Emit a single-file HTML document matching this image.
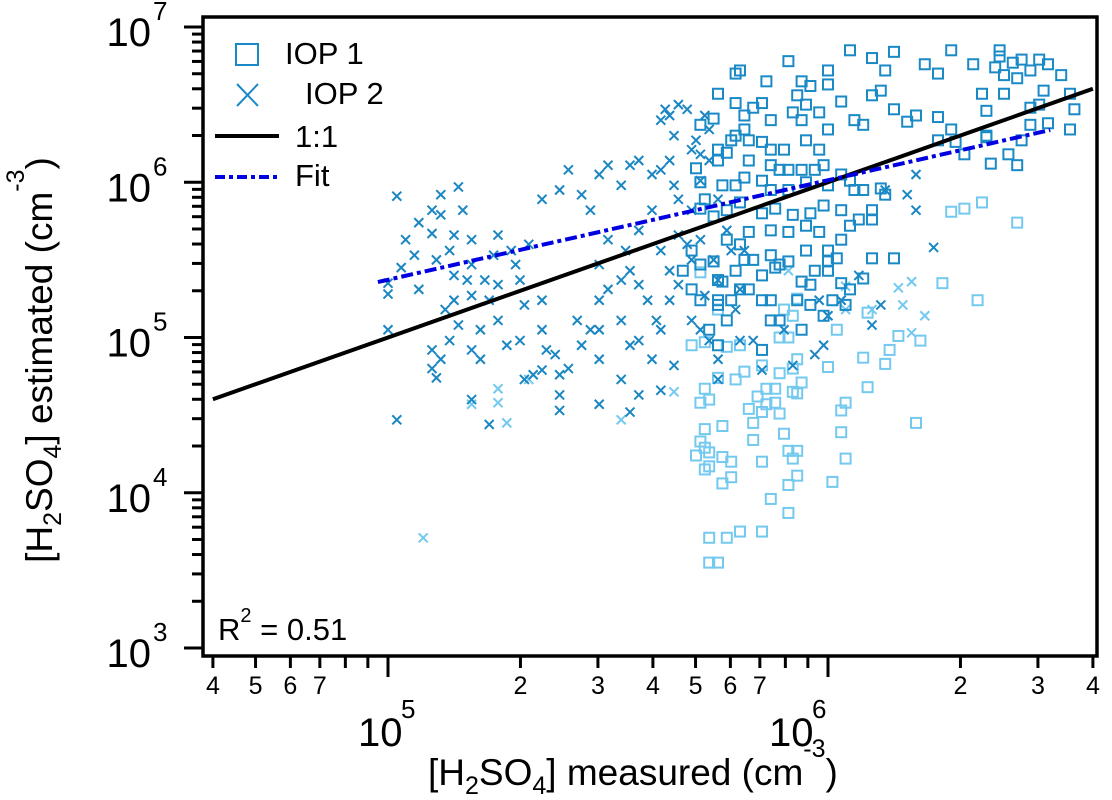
<!DOCTYPE html>
<html><head><meta charset="utf-8"><style>
body{margin:0;background:#fff;}
svg{display:block;font-family:"Liberation Sans",Arial,sans-serif;}
</style></head><body>
<div style="position:relative;width:1112px;height:800px;">
<svg id="chart" width="1112" height="800" viewBox="0 0 1112 800" style="position:absolute;left:0;top:0">
<g id="marks"></g>
<g id="axes"></g>
</svg>
<svg width="1112" height="800" style="position:absolute;left:0;top:0" font-family="Liberation Sans, Arial, sans-serif">
  <text x="358" y="746" font-size="40">10</text>
  <text x="401" y="718" font-size="26">5</text>
  <text x="769" y="746" font-size="40">10</text>
  <text x="812" y="718" font-size="26">6</text>
  <g font-size="37">
    <text x="428" y="785">[H<tspan font-size="25" dy="9">2</tspan><tspan dy="-9">SO</tspan><tspan font-size="25" dy="9">4</tspan><tspan dy="-9">] measured (cm</tspan><tspan font-size="25" dy="-28">-3</tspan><tspan dy="28">)</tspan></text>
  </g>
  <g font-size="37" transform="translate(52,360) rotate(-90)">
    <text x="0" y="0" text-anchor="middle">[H<tspan font-size="25" dy="9">2</tspan><tspan dy="-9">SO</tspan><tspan font-size="25" dy="9">4</tspan><tspan dy="-9">] estimated (cm</tspan><tspan font-size="25" dy="-28">-3</tspan><tspan dy="28">)</tspan></text>
  </g>
  <g font-size="31">
    <rect x="236" y="44" width="22" height="21" fill="none" stroke="#1a8ac6" stroke-width="2"/>
    <text x="285" y="64">IOP 1</text>
    <path d="M237,84L258,106M237,106L258,84" stroke="#1a8ac6" stroke-width="2"/>
    <text x="305" y="104">IOP 2</text>
    <line x1="215" y1="136" x2="279" y2="136" stroke="#000" stroke-width="4"/>
    <text x="295" y="147">1:1</text>
    <line x1="215" y1="177" x2="279" y2="177" stroke="#0000e0" stroke-width="4" stroke-dasharray="10,4,4,4"/>
    <text x="295" y="186">Fit</text>
  </g>
  <g font-size="31">
    <text x="218" y="640">R<tspan font-size="20" dy="-18">2</tspan><tspan dy="18"> = 0.51</tspan></text>
  </g>
</svg>
</div>
<script>
// data (log10 values of concentration, cm^-3)
const iop1X=[5.79,5.80,6.05,6.10,6.13,6.28,6.22,6.33,6.25,6.15,6.39,6.39,6.38,6.40,6.42,6.44,6.46,6.48,6.50,6.53,6.49,6.48,6.50,6.55,6.56,6.43,6.46,6.40,6.35,6.36,6.36,6.44,6.46,6.55,5.79,5.75,5.81,5.83,5.85,5.86,5.92,5.95,5.96,6.00,5.94,5.91,5.93,5.98,6.03,6.00,6.06,6.08,6.10,6.12,6.15,6.18,6.20,6.25,6.25,6.28,6.29,6.31,6.00,5.98,5.95,5.94,5.90,5.87,5.82,5.81,5.87,5.74,5.71,5.75,5.77,5.75,5.70,5.71,5.78,5.79,5.82,5.85,5.87,5.89,5.91,5.94,5.97,5.99,6.03,6.05,6.08,6.12,6.10,6.07,6.00,5.95,5.91,5.87,5.85,5.81,5.79,5.76,5.72,5.74,5.77,5.80,5.85,5.88,5.92,5.96,5.99,6.03,6.06,5.95,5.98,6.03,6.00,6.05,6.10,6.13,5.71,5.77,5.80,5.82,5.87,5.91,5.87,5.83,5.74,5.75,5.71,5.76,5.79,5.81,5.82,5.85,5.88,5.89,5.91,5.95,6.00,6.02,6.08,6.10,6.03,6.15,5.97,6.00,6.05,5.75,5.78,5.85,5.87,5.93,5.96,6.01,5.80,5.71,5.75,5.77,5.89,5.94,5.96,5.94,5.99,6.04,5.73,5.75,5.85,5.87,5.69,5.69,5.67,6.43,6.37,6.41,6.36];
const iop1Y=[6.70,6.72,6.85,6.80,6.72,6.85,6.76,6.76,6.70,6.84,6.85,6.81,6.74,6.69,6.77,6.79,6.72,6.79,6.76,6.69,6.59,6.50,6.38,6.57,6.47,6.67,6.48,6.57,6.57,6.46,6.30,6.27,6.37,6.34,6.51,6.57,6.43,6.48,6.51,6.65,6.45,6.50,6.62,6.63,6.65,6.78,6.56,6.45,6.52,6.72,6.40,6.37,6.56,6.59,6.47,6.39,6.43,6.42,6.27,6.34,6.26,6.18,6.34,6.21,6.27,6.40,6.21,6.21,6.14,6.34,6.40,6.41,6.37,6.21,6.19,6.14,6.09,6.00,6.27,6.30,6.27,6.26,6.11,6.08,6.08,6.08,6.08,6.11,6.05,6.01,5.95,5.96,5.82,5.76,5.98,6.00,5.95,5.95,6.01,6.03,5.98,5.98,5.89,5.78,5.82,5.87,5.80,5.83,5.79,5.80,5.85,5.82,5.95,5.72,5.68,5.63,5.56,5.72,5.76,5.92,5.83,5.63,5.60,5.68,5.69,5.68,5.53,5.50,5.49,5.37,5.47,5.36,5.43,5.50,5.31,5.40,5.45,5.47,5.49,5.56,5.49,5.51,5.38,5.51,5.35,5.51,5.43,5.43,5.31,5.24,5.24,5.24,5.24,5.24,5.21,5.24,5.31,5.24,5.21,5.11,5.11,5.36,5.34,5.05,5.14,5.21,5.05,4.95,4.92,5.11,5.56,5.31,5.43,6.11,6.12,6.18,6.29];
const iop1LightX=[5.71,5.75,5.93,5.90,5.92,6.09,6.02,6.26,6.34,6.21,6.16,6.14,6.13,6.08,6.09,5.72,5.77,5.80,5.89,5.91,5.93,5.85,5.81,5.79,5.75,5.89,5.92,5.94,6.00,5.72,5.71,5.73,5.86,5.88,5.92,5.93,5.84,5.88,5.86,5.82,5.85,5.89,6.04,6.03,6.20,5.72,5.76,5.83,5.90,6.03,5.71,5.72,5.70,5.73,5.76,5.78,5.83,5.85,5.91,5.93,5.92,6.04,5.72,5.73,5.78,5.76,5.91,5.93,6.01,5.87,5.91,5.73,5.77,5.80,5.85,5.73,5.75,6.28,6.31,6.35,6.43,5.69];
const iop1LightY=[5.42,5.18,5.25,5.18,5.14,5.16,5.05,5.35,5.24,4.98,5.01,4.92,4.83,4.87,4.68,4.97,4.94,4.95,5.00,5.00,4.86,4.82,4.78,4.73,4.74,4.77,4.80,4.71,4.81,4.67,4.58,4.60,4.67,4.67,4.65,4.64,4.62,4.58,4.57,4.54,4.52,4.51,4.58,4.53,4.45,4.41,4.43,4.45,4.38,4.39,4.33,4.29,4.24,4.26,4.23,4.20,4.34,4.20,4.27,4.27,4.22,4.22,4.15,4.17,4.10,4.06,4.05,4.11,4.07,3.96,3.87,3.71,3.71,3.75,3.75,3.55,3.55,5.81,5.83,5.87,5.74,4.95];
const iop2X=[5.02,5.00,5.00,5.00,5.02,5.03,5.04,5.06,5.07,5.07,5.10,5.10,5.11,5.12,5.12,5.14,5.15,5.15,5.16,5.17,5.15,5.18,5.19,5.19,5.10,5.10,5.11,5.12,5.13,5.14,5.16,5.19,5.21,5.23,5.22,5.24,5.25,5.25,5.28,5.29,5.30,5.31,5.32,5.35,5.35,5.36,5.21,5.25,5.27,5.19,5.30,5.33,5.35,5.38,5.39,5.41,5.39,5.44,5.46,5.48,5.50,5.53,5.43,5.48,5.19,5.23,5.31,5.39,5.48,5.35,5.39,5.41,5.44,5.46,5.48,5.50,5.53,5.55,5.57,5.60,5.62,5.65,5.64,5.66,5.69,5.71,5.73,5.69,5.71,5.62,5.64,5.66,5.63,5.65,5.68,5.70,5.72,5.73,5.77,5.75,5.78,5.74,5.71,5.68,5.72,5.75,5.79,5.80,5.81,5.57,5.60,5.62,5.64,5.66,5.69,5.48,5.50,5.54,5.55,5.57,5.59,5.61,5.62,5.64,5.66,5.69,5.71,5.73,5.75,5.53,5.55,5.57,5.60,5.62,5.48,5.53,5.57,5.55,5.65,5.75,5.80,5.83,5.85,5.90,5.92,5.97,5.99,6.00,6.03,6.10,6.12,6.20,6.24,6.18,6.13,6.20,5.98,6.07];
const iop2Y=[5.91,5.35,5.28,5.05,4.47,5.45,5.63,5.53,5.74,5.31,5.67,5.82,5.50,5.92,5.79,5.56,5.66,5.40,5.97,5.82,5.24,5.37,5.63,5.47,4.92,4.80,4.74,4.86,5.18,4.98,5.08,5.27,5.05,5.24,5.37,5.53,5.66,5.34,5.56,5.47,5.37,5.21,5.60,5.24,5.05,4.92,4.86,5.11,4.95,4.92,4.98,4.76,4.79,4.89,4.76,4.80,4.63,4.95,5.05,5.24,5.31,5.37,5.11,5.05,4.60,4.44,4.73,4.53,4.57,5.89,5.95,6.08,5.92,5.82,6.05,6.11,5.98,6.11,6.14,6.05,6.08,5.98,6.14,5.89,5.82,6.01,6.34,6.21,6.18,6.40,6.43,6.50,6.47,6.30,6.47,6.27,6.43,6.14,5.69,5.89,5.56,5.50,5.63,5.60,5.27,5.37,5.18,5.31,5.56,5.69,5.82,5.56,5.43,5.66,5.50,5.47,5.63,5.56,5.43,5.34,5.24,5.11,5.05,5.24,5.34,5.11,5.05,4.98,4.86,5.11,4.95,4.98,4.86,4.66,4.86,4.73,4.63,4.52,4.82,4.73,4.98,4.98,4.79,5.05,4.82,4.89,4.95,5.14,5.24,5.08,5.21,5.82,5.58,5.92,5.95,6.05,5.24,5.40];
const iop2LightX=[5.08,5.19,5.25,5.25,5.27,5.32,5.53,5.65,5.91,6.04,6.10,6.19,6.17,6.22,6.19,6.16,6.04];
const iop2LightY=[3.71,4.57,4.67,4.58,4.45,4.73,4.47,4.65,5.43,5.18,5.18,5.03,5.21,5.14,5.36,5.32,5.33];
const fitSlope=0.641, fitIntercept=2.167, fitRange=[4.977,6.505];
const oneToOneRange=[4.602,6.602];
const yTickExps=[3,4,5,6,7];
const xMinorLabels=[4,5,6,7,2,3,4,5,6,7,2,3,4];
const xMinorVals=[4e4,5e4,6e4,7e4,2e5,3e5,4e5,5e5,6e5,7e5,2e6,3e6,4e6];

const NS='http://www.w3.org/2000/svg';
const L=203,R=1097,T=17,B=656;
function sx(lx){return 388+(lx-5)*440;}
function sy(ly){return 648-(ly-3)*155.25;}
function mk(tag,attrs,parent){const e=document.createElementNS(NS,tag);for(const k in attrs)e.setAttribute(k,attrs[k]);parent.appendChild(e);return e;}
const marks=document.getElementById('marks');
const axes=document.getElementById('axes');

function drawSquares(xs,ys,color,name){
  for(let i=0;i<xs.length;i++){
    const r=mk('rect',{x:sx(xs[i])-5,y:sy(ys[i])-5,width:10,height:10,fill:'none',stroke:color,'stroke-width':2},marks);
    
    
  }
}
function drawCrosses(xs,ys,color,name){
  for(let i=0;i<xs.length;i++){
    const cx=sx(xs[i]),cy=sy(ys[i]);
    const p=mk('path',{d:`M${cx-4.5},${cy-4.5}L${cx+4.5},${cy+4.5}M${cx-4.5},${cy+4.5}L${cx+4.5},${cy-4.5}`,stroke:color,'stroke-width':2,fill:'none'},marks);
    
    
  }
}
drawSquares(iop1LightX,iop1LightY,'#74c9ef','iop1-point-light');
drawCrosses(iop2LightX,iop2LightY,'#74c9ef','iop2-point-light');
drawCrosses(iop2X,iop2Y,'#1a86c2','iop2-point');
drawSquares(iop1X,iop1Y,'#1a8ac6','iop1-point');

const one=mk('line',{x1:sx(oneToOneRange[0]),y1:sy(oneToOneRange[0]),x2:sx(oneToOneRange[1]),y2:sy(oneToOneRange[1]),stroke:'#000','stroke-width':4},marks);


const fit=mk('line',{x1:sx(fitRange[0]),y1:sy(fitIntercept+fitSlope*fitRange[0]),x2:sx(fitRange[1]),y2:sy(fitIntercept+fitSlope*fitRange[1]),stroke:'#0000e0','stroke-width':4,'stroke-dasharray':'12,4,4,4'},marks);



const fr=mk('rect',{x:L,y:T,width:R-L,height:B-T,fill:'none',stroke:'#000','stroke-width':3.5},axes);


yTickExps.forEach(e=>{
  const y=sy(e);
  const t=mk('line',{x1:184,y1:y,x2:L,y2:y,stroke:'#000','stroke-width':3},axes);
  
  
  const tx=mk('text',{x:151,y:y+19,'font-size':40,'text-anchor':'end'},axes);
  tx.textContent='10';
  
  
  const sp=mk('text',{x:153,y:y-7,'font-size':26},axes);
  sp.textContent=String(e);
  
  
  if(e<7){for(let m=2;m<=9;m++){
    const ym=sy(e+Math.log10(m));
    const mt=mk('line',{x1:192,y1:ym,x2:L,y2:ym,stroke:'#000','stroke-width':3},axes);
    
    
  }}
});
for(let d=4;d<=6;d++){for(let m=1;m<=9;m++){
  const lx=d+Math.log10(m);
  if(lx<4.6||lx>6.61)continue;
  const x=sx(lx);
  const t=mk('line',{x1:x,y1:B,x2:x,y2:m===1?677:668,stroke:'#000','stroke-width':3},axes);
  
  
}}
xMinorVals.forEach((v,i)=>{
  const t=mk('text',{x:sx(Math.log10(v)),y:694,'font-size':25,'text-anchor':'middle'},axes);
  t.textContent=xMinorLabels[i];
  
  
});
</script>
</body></html>
